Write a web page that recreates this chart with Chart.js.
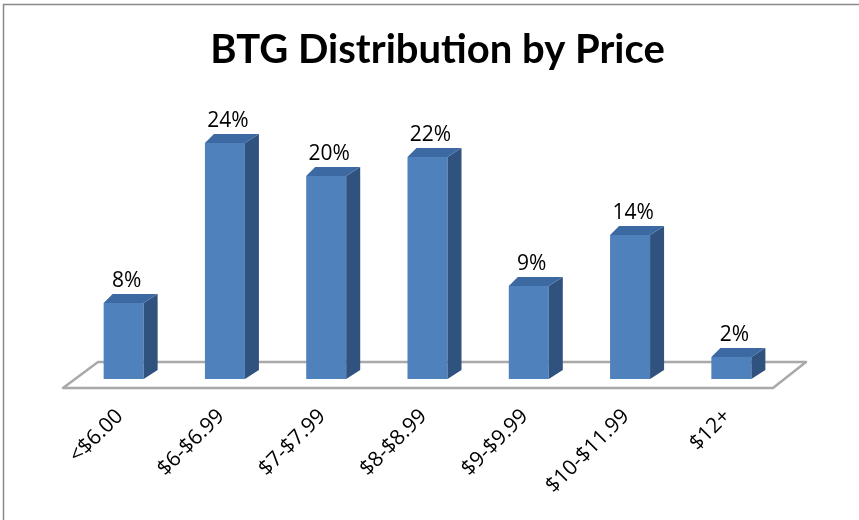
<!DOCTYPE html>
<html>
<head>
<meta charset="utf-8">
<script src="https://cdn.jsdelivr.net/npm/chart.js@4"></script>
<style>
  html, body { margin: 0; padding: 0; background: #fff; }
  #wrap { width: 859px; height: 520px; }
</style>
</head>
<body>
<div id="wrap"><canvas id="chart" width="859" height="520"></canvas></div>
<script>
const titleText = "BTG Distribution by Price";
const categories = ["<$6.00", "$6-$6.99", "$7-$7.99", "$8-$8.99", "$9-$9.99", "$10-$11.99", "$12+"];
const shares = [7.6, 23.6, 20.3, 22.2, 9.3, 14.4, 2.2];

// fake 3d depth of the bars
const depth = { dxL: 9, dxR: 14, dy: -9 };

const colors = {
  front: "#4f81bd",
  side: "#30527f",
  top: "#3d69a2",
  floor: "#a9a9a9",
  border: "#8a8a8a"
};

const threeD = {
  id: "threeD",
  beforeDatasetsDraw(chart) {
    const ctx = chart.ctx;
    const area = chart.chartArea;
    const y0 = chart.scales.y.getPixelForValue(0);
    // floor
    ctx.save();
    ctx.strokeStyle = colors.floor;
    ctx.lineWidth = 2.5;
    ctx.lineJoin = "round";
    ctx.beginPath();
    ctx.moveTo(area.left - 10, y0 + 9);
    ctx.lineTo(area.left + 25, y0 - 17);
    ctx.lineTo(area.right + 24, y0 - 17);
    ctx.lineTo(area.right - 9, y0 + 9);
    ctx.closePath();
    ctx.stroke();
    ctx.restore();
  },
  afterDatasetsDraw(chart) {
    const ctx = chart.ctx;
    const meta = chart.getDatasetMeta(0);
    ctx.save();
    meta.data.forEach((bar, i) => {
      const p = bar.getProps(["x", "y", "base", "width"], true);
      const l = p.x - p.width / 2;
      const r = p.x + p.width / 2;
      // side
      ctx.fillStyle = colors.side;
      ctx.beginPath();
      ctx.moveTo(r, p.y);
      ctx.lineTo(r + depth.dxR, p.y + depth.dy);
      ctx.lineTo(r + depth.dxR, p.base + depth.dy);
      ctx.lineTo(r, p.base);
      ctx.closePath();
      ctx.fill();
      // top
      ctx.fillStyle = colors.top;
      ctx.beginPath();
      ctx.moveTo(l, p.y);
      ctx.lineTo(l + depth.dxL, p.y + depth.dy);
      ctx.lineTo(r + depth.dxR, p.y + depth.dy);
      ctx.lineTo(r, p.y);
      ctx.closePath();
      ctx.fill();
      // value label
      ctx.fillStyle = "#000";
      ctx.font = "21px 'Open Sans'";
      ctx.textAlign = "center";
      ctx.textBaseline = "alphabetic";
      ctx.fillText(Math.round(shares[i]) + "%", p.x + 3, p.y + depth.dy - 7);
    });

    // category labels, rotated
    const xs = chart.scales.x;
    const y0 = chart.scales.y.getPixelForValue(0);
    ctx.font = "21px 'Open Sans'";
    ctx.textAlign = "right";
    ctx.textBaseline = "middle";
    categories.forEach((c, i) => {
      const x = xs.getPixelForValue(i);
      ctx.save();
      ctx.translate(x - 4, y0 + 34);
      ctx.rotate(-Math.PI / 4);
      ctx.fillText(c, 0, 0);
      ctx.restore();
    });
    ctx.restore();
  },
  afterDraw(chart) {
    const ctx = chart.ctx;
    ctx.save();
    // title
    ctx.fillStyle = "#000";
    ctx.font = "bold 40px Lato";
    ctx.textAlign = "center";
    ctx.textBaseline = "alphabetic";
    ctx.fillText(titleText, 437.5, 63);
    // chart border
    ctx.strokeStyle = colors.border;
    ctx.lineWidth = 1.5;
    ctx.beginPath();
    ctx.moveTo(3.5, 520);
    ctx.lineTo(3.5, 4.5);
    ctx.lineTo(859, 4.5);
    ctx.stroke();
    ctx.restore();
  }
};

new Chart(document.getElementById("chart"), {
  type: "bar",
  data: {
    labels: categories,
    datasets: [{
      data: shares,
      backgroundColor: colors.front,
      borderWidth: 0,
      categoryPercentage: 1,
      barPercentage: 0.395
    }]
  },
  options: {
    responsive: false,
    animation: false,
    layout: { padding: { left: 73, right: 77, top: 79, bottom: 141 } },
    plugins: {
      legend: { display: false },
      tooltip: { enabled: false },
      title: { display: false }
    },
    scales: {
      x: { display: false },
      y: { display: false, min: 0, max: 30 }
    }
  },
  plugins: [threeD]
});
</script>
</body>
</html>
